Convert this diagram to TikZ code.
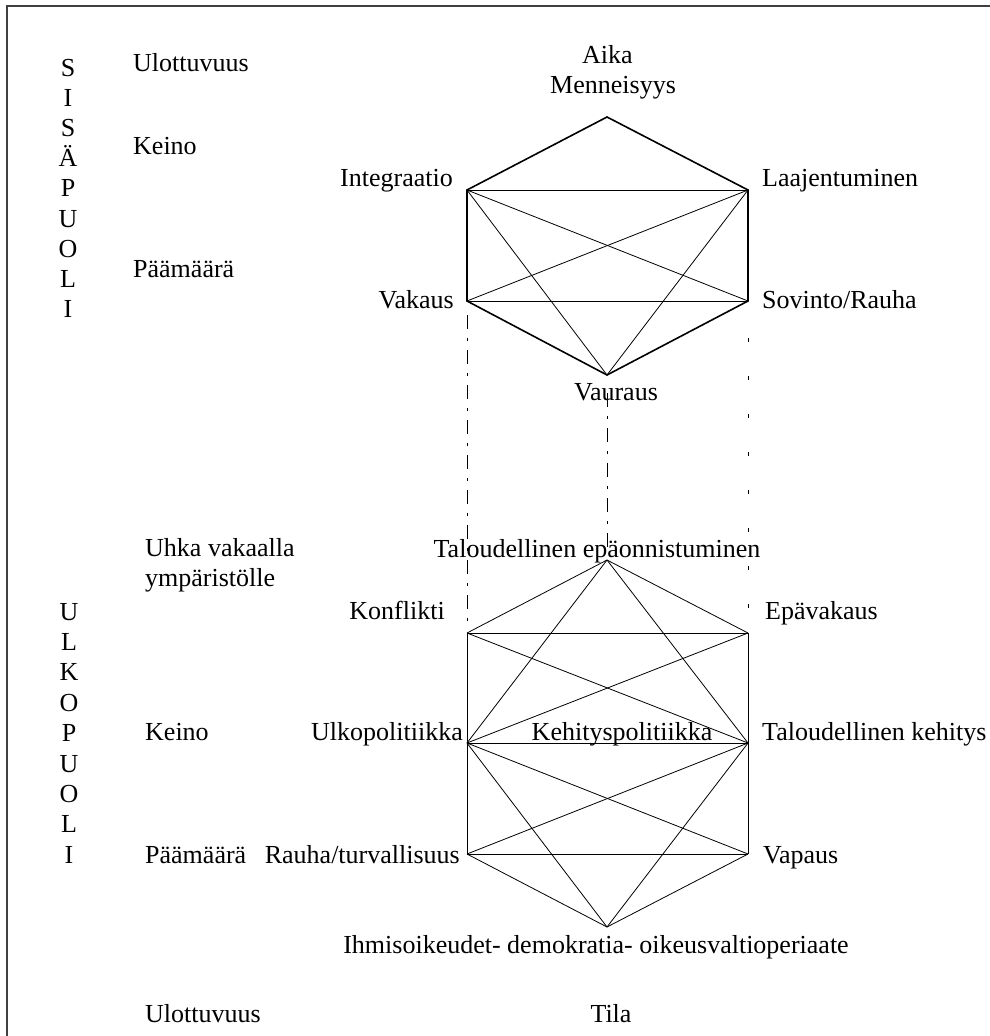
\documentclass[tikz,border=0pt]{standalone}
\usepackage{fontspec}
\setmainfont{Liberation Serif}
\begin{document}
\begin{tikzpicture}[x=1pt,y=-1pt,
  lbl/.style={inner sep=0pt,font=\fontsize{26}{30}\selectfont},
  thickedge/.style={line width=1.6pt,line join=miter},
  thinedge/.style={line width=0.8pt},
  dashdot/.style={line width=0.8pt,dash pattern=on 14pt off 9pt on 3pt off 9pt},
  dotted/.style={line width=0.8pt,dash pattern=on 4pt off 34pt},
  frame/.style={line width=1.2pt,draw=black!75}]
\useasboundingbox (0,0) rectangle (989,1036);
\draw[frame] (7,1040) -- (7,6) -- (993,6);

% top hexagon vertices
\coordinate (T0) at (607,117);
\coordinate (T1) at (467,190);
\coordinate (T2) at (748,190);
\coordinate (T3) at (467,301);
\coordinate (T4) at (748,301);
\coordinate (T5) at (607,375);
% bottom hexagon vertices
\coordinate (B0) at (607,560);
\coordinate (B1) at (467,633);
\coordinate (B2) at (748,633);
\coordinate (B3) at (467,743);
\coordinate (B4) at (748,743);
\coordinate (B5) at (467,854);
\coordinate (B6) at (748,854);
\coordinate (B7) at (607,927);

% dashed connectors
\coordinate (dl1) at (467,315); \coordinate (dl2) at (467,630);
\coordinate (dm1) at (607,393); \coordinate (dm2) at (607,548);
\coordinate (dr1) at (748,338); \coordinate (dr2) at (748,612);
\draw[dashdot] (dl1) -- (dl2);
\draw[dashdot] (dm1) -- (dm2);
\draw[dotted] (dr1) -- (dr2);

% top hexagon
\draw[thickedge] (T1) -- (T0) -- (T2) -- (T4) -- (T5) -- (T3) -- cycle;
\draw[thinedge] (T1) -- (T2);
\draw[thinedge] (T3) -- (T4);
\draw[thinedge] (T1) -- (T4);
\draw[thinedge] (T3) -- (T2);
\draw[thinedge] (T1) -- (T5);
\draw[thinedge] (T2) -- (T5);

% bottom figure
\foreach \a/\b in {B0/B1,B0/B2,B0/B3,B0/B4,B1/B2,B1/B3,B2/B4,B1/B4,B2/B3,
  B3/B4,B3/B5,B4/B6,B3/B6,B4/B5,B3/B7,B4/B7,B5/B6,B5/B7,B6/B7}
  \draw[thinedge] (\a) -- (\b);

% vertical words
\foreach \ch [count=\i from 0] in {S,I,S,Ä,P,U,O,L,I}
  \node[lbl,anchor=base] (sis\i) at (68,76+30.2*\i) {\ch};
\foreach \ch [count=\i from 0] in {U,L,K,O,P,U,O,L,I}
  \node[lbl,anchor=base] (ulk\i) at (69,620+30.4*\i) {\ch};

% left labels
\node[lbl,anchor=base west] (ulot1) at (133,71) {Ulottuvuus};
\node[lbl,anchor=base west] (keino1) at (133,154) {Keino};
\node[lbl,anchor=base west] (paam1) at (133,277) {Päämäärä};
\node[lbl,anchor=base west] (uhka) at (145,556) {Uhka vakaalla};
\node[lbl,anchor=base west] (ymp) at (145,586) {ympäristölle};
\node[lbl,anchor=base west] (keino2) at (145,740) {Keino};
\node[lbl,anchor=base west] (paam2) at (145,863) {Päämäärä};
\node[lbl,anchor=base west] (ulot2) at (145,1022) {Ulottuvuus};

% top labels
\node[lbl,anchor=base west] (aika) at (582,63) {Aika};
\node[lbl,anchor=base west] (menn) at (550,93) {Menneisyys};
\node[lbl,anchor=base east] (integ) at (453,186) {Integraatio};
\node[lbl,anchor=base west] (laaj) at (762,186) {Laajentuminen};
\node[lbl,anchor=base east] (vakaus) at (454,308) {Vakaus};
\node[lbl,anchor=base west] (sovinto) at (762,308) {Sovinto/Rauha};
\node[lbl,anchor=base] (vauraus) at (616,400) {Vauraus};

% bottom labels
\node[lbl,anchor=base] (talepa) at (597,557) {Taloudellinen epäonnistuminen};
\node[lbl,anchor=base east] (konf) at (445,619) {Konflikti};
\node[lbl,anchor=base west] (epav) at (765,619) {Epävakaus};
\node[lbl,anchor=base east] (ulkop) at (463,740) {Ulkopolitiikka};
\node[lbl,anchor=base] (kehpol) at (622,740) {Kehityspolitiikka};
\node[lbl,anchor=base west] (talkeh) at (762,740) {Taloudellinen kehitys};
\node[lbl,anchor=base east] (rauha) at (460,863) {Rauha/turvallisuus};
\node[lbl,anchor=base west] (vapaus) at (763,863) {Vapaus};
\node[lbl,anchor=base] (ihmis) at (596,953) {Ihmisoikeudet- demokratia- oikeusvaltioperiaate};
\node[lbl,anchor=base] (tila) at (611,1022) {Tila};
\end{tikzpicture}
\end{document}
